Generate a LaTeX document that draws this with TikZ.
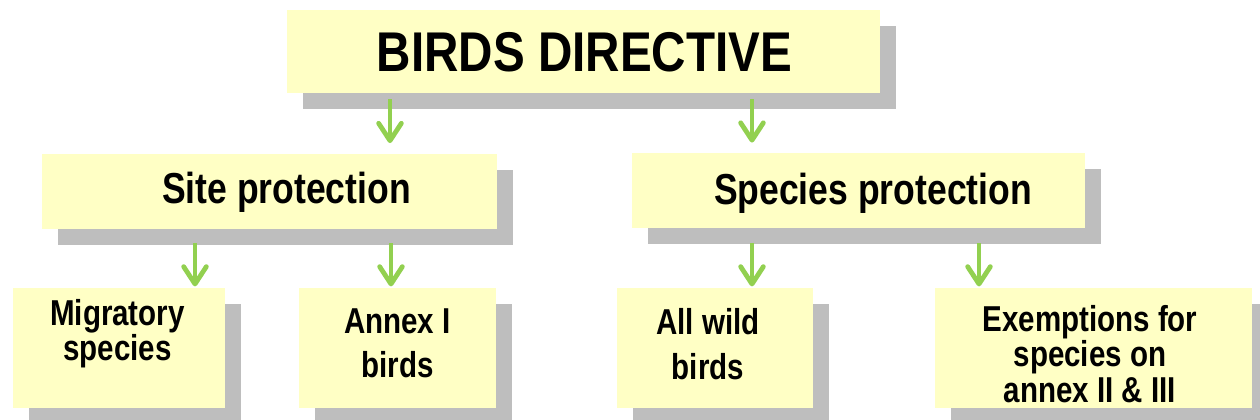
\documentclass[tikz,border=0pt]{standalone}
\usepackage{fontspec}
\setmainfont{Liberation Sans}
\newfontfamily\narrowA{Liberation Sans}[FakeStretch=0.85]
\newfontfamily\narrowB{Liberation Sans}[FakeStretch=0.82]
\usetikzlibrary{arrows.meta,shadows}
\definecolor{boxyellow}{RGB}{255,255,197}
\definecolor{shadowgray}{RGB}{190,190,190}
\definecolor{flowgreen}{RGB}{146,208,80}
\newcommand\fntTop{\narrowA\bfseries\fontsize{42}{50}\selectfont}
\newcommand\fntMid{\narrowB\bfseries\fontsize{32.5}{38}\selectfont}
\begin{document}
\begin{tikzpicture}[x=0.75pt, y=-0.75pt,
  panel/.style 2 args={fill=boxyellow, draw=none, inner sep=0pt,
    minimum width=#1*0.75pt, minimum height=#2*0.75pt,
    general shadow={fill=shadowgray, shadow xshift=12pt, shadow yshift=-12pt}},
  lbl/.style={inner sep=0pt, anchor=north, align=center},
  flow/.style={draw=flowgreen, line width=3.6pt,
    -{Straight Barb[length=13pt, width=17pt, line cap=round, line join=round]}}
]
\clip (0,0) rectangle (1260,420);
\fill[white] (0,0) rectangle (1260,420);

% boxes
\node[panel={593}{83}] (top) at (583.5,51.5) {};
\node[panel={455}{75}] (site) at (269.5,191.5) {};
\node[panel={453}{75}] (species) at (858.5,191) {};
\node[panel={212}{120}] (mig) at (119,348) {};
\node[panel={197}{120}] (annex) at (397.5,348) {};
\node[panel={196}{120}] (wild) at (715,348) {};
\node[panel={317}{120}] (exempt) at (1093.5,348) {};

% labels
\node[lbl, font=\fntTop] (topT) at (584.5,32) {BIRDS DIRECTIVE};
\node[lbl, font=\fntMid] (siteT) at (286.5,172) {Site protection};
\node[lbl, font=\fntMid] (speciesT) at (873,173) {Species protection};
\node[lbl, font=\narrowB\bfseries\fontsize{27}{26.25}\selectfont] (migT) at (117.5,299) {Migratory\\species};
\node[lbl, font=\narrowB\bfseries\fontsize{27}{33}\selectfont] (annexT) at (397.5,308) {Annex I\\birds};
\node[lbl, font=\narrowB\bfseries\fontsize{27}{33.75}\selectfont] (wildT) at (708,308) {All wild\\birds};
\node[lbl, font=\narrowB\bfseries\fontsize{27}{26.6}\selectfont] (exemptT) at (1090,305) {Exemptions for\\species on\\annex II \& III};

% connectors
\path (top.south) ++(-193.5,6) coordinate (a1s);
\path (top.south) ++(168.5,6) coordinate (a2s);
\path (site.south) ++(-74.5,14) coordinate (a3s);
\path (site.south) ++(121.5,14) coordinate (a4s);
\path (species.south) ++(-106.5,14) coordinate (a5s);
\path (species.south) ++(120.5,14) coordinate (a6s);

\draw[flow, shorten >=8pt] (a1s) -- (a1s |- site.north);
\draw[flow, shorten >=8pt] (a2s) -- (a2s |- species.north);
\draw[flow, shorten >=1pt] (a3s) -- (a3s |- mig.north);
\draw[flow, shorten >=1pt] (a4s) -- (a4s |- annex.north);
\draw[flow, shorten >=1pt] (a5s) -- (a5s |- wild.north);
\draw[flow, shorten >=1pt] (a6s) -- (a6s |- exempt.north);
\end{tikzpicture}
\end{document}
